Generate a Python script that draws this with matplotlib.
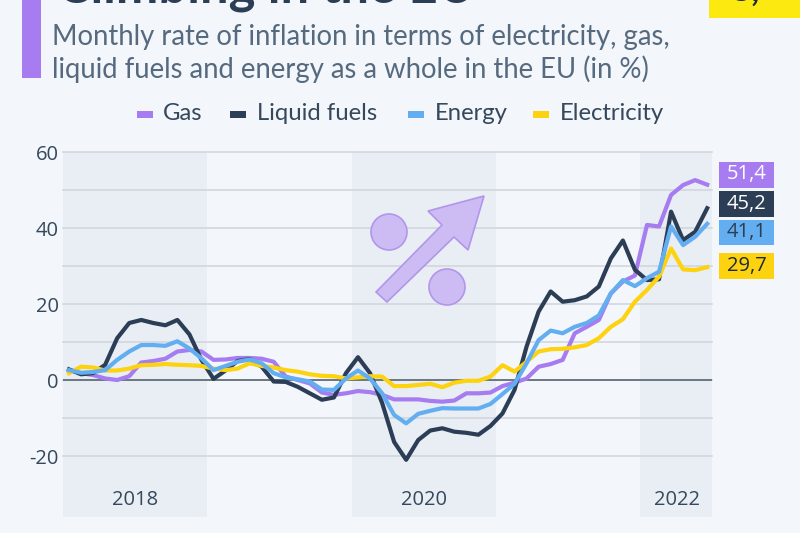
import matplotlib
matplotlib.use("Agg")
import matplotlib.pyplot as plt
from matplotlib.patches import Polygon, Circle, Rectangle

W, H = 800, 533

# monthly values, Jan 2018 - Jun 2022
gas = [2.6, 1.8, 1.3, 0.4, 0, 1, 4.6, 5, 5.6, 7.5, 7.9, 7.5,
       5.3, 5.4, 5.8, 5.8, 5.6, 4.8, 0.9, 0, -0.9, -3.3, -3.9, -3.5,
       -2.9, -3.2, -3.9, -5.1, -5.1, -5.1, -5.5, -5.7, -5.4, -3.5, -3.5, -3.3,
       -1.6, -0.7, 0.4, 3.5, 4.2, 5.3, 12.3, 14, 15.8, 22.8, 25.9, 27.5,
       40.8, 40.4, 48.7, 51.3, 52.6, 51.4]
liquid = [2.8, 1.5, 1.8, 4, 11, 15, 15.8, 15, 14.4, 15.8, 12, 5.3,
          0.3, 2.5, 5, 5.5, 3.5, -0.4, -0.5, -1.8, -3.5, -5.2, -4.6, 1.8,
          6, 1.8, -6, -16.3, -21, -15.8, -13.3, -12.7, -13.6, -13.9, -14.4, -12.1,
          -8.8, -2.6, 8.8, 18, 23.3, 20.6, 21, 22, 24.6, 32, 36.7, 29,
          26.3, 26.5, 44.3, 36.8, 39, 45.2]
energy = [2.6, 1.9, 2.1, 2.6, 5.3, 7.5, 9.2, 9.2, 9, 10.2, 8.3, 5.7,
          2.6, 3.7, 4.8, 5.4, 4.4, 1.8, 0.7, 0.2, -0.4, -2.5, -2.6, 0.4,
          2.5, 0.4, -3.5, -9.2, -11.4, -8.9, -8.1, -7.4, -7.5, -7.5, -7.5, -6.3,
          -3.7, -1, 4.4, 10.5, 13, 12.3, 14, 15, 17, 22.8, 26.3, 24.7,
          26.8, 28.5, 40.4, 35.5, 37.7, 41.1]
electricity = [1.8, 3.5, 3.3, 2.5, 2.5, 3, 3.9, 4, 4.2, 4, 3.9, 3.7,
               3, 2.6, 3, 4.4, 3.7, 3.3, 2.6, 2.2, 1.5, 1.1, 1, 0.4,
               0.7, 1, 0.9, -1.6, -1.6, -1.3, -1, -1.9, -0.7, -0.2, -0.2, 0.9,
               3.9, 2.2, 4.8, 7.5, 8.1, 8.2, 8.6, 9.2, 11, 14, 16, 20.6,
               23.7, 27.2, 34.6, 29.1, 28.9, 29.7]
years = ["2018", "2020", "2022"]
yticks = [60, 40, 20, 0, -20]
end_labels = ["51,4", "45,2", "41,1", "29,7"]

PURPLE = "#a67cf0"
DARK = "#2c3e55"
BLUE = "#63aef0"
YELLOW = "#fdd20e"
BG = "#f3f6fa"
BAND = "#e9eef5"
TEXT = "#35485c"
LATO = ["Lato", "DejaVu Sans"]

fig = plt.figure(figsize=(W / 100, H / 100), dpi=100, facecolor=BG)
plt.rcParams["font.family"] = ["Open Sans", "DejaVu Sans"]

# whole figure in pixels, for the header and the end labels
bg = fig.add_axes([0, 0, 1, 1], zorder=3)
bg.set_xlim(0, W)
bg.set_ylim(H, 0)
bg.axis("off")
bg.patch.set_alpha(0)

ax = fig.add_axes([63 / W, 1 - 517 / H, 649 / W, 365 / H], zorder=1)
ax.set_facecolor("none")
ax.set_xlim(0, 53.9)
ax.set_ylim(-36.05, 60)
months = [i + 0.5 for i in range(len(gas))]

# shaded years
for start, end in [(0, 12), (24, 36), (47.9, 54)]:
    ax.axvspan(start, end, color=BAND, lw=0, zorder=0)

for v in range(-20, 70, 10):
    ax.axhline(v, color="#cfd5dc", lw=1.1, zorder=1, clip_on=False)
ax.axhline(0, color="#5b6672", lw=1.2, zorder=1)

ax.plot(months, gas, color=PURPLE, lw=3, zorder=2)
ax.plot(months, liquid, color=DARK, lw=3, zorder=3)
ax.plot(months, electricity, color=YELLOW, lw=3, zorder=4)
ax.plot(months, energy, color=BLUE, lw=3, zorder=5)

ax.set_xticks([])
ax.set_yticks(yticks)
ax.set_yticklabels(["60", "40", "20", "0", "-20"], fontsize=14.5, color=TEXT)
ax.tick_params(axis="y", length=0, pad=3)
for s in ax.spines.values():
    s.set_visible(False)

for label, x in zip(years, [6, 30, 51]):
    ax.text(x, -31.6, label, ha="center", va="center", fontsize=14.5, color=TEXT)

# header
bg.add_patch(Rectangle((22, 0), 19, 78, color=PURPLE, lw=0))
bg.text(57, 2, "Climbing in the EU", fontsize=36.5, fontweight="bold", color=DARK,
        family=LATO, ha="left", va="baseline", clip_on=True)
bg.text(52, 37, "Monthly rate of inflation in terms of electricity, gas,", fontsize=19.8,
        color="#566a7f", family=LATO, va="center")
bg.text(52, 69, "liquid fuels and energy as a whole in the EU (in %)", fontsize=19.8,
        color="#566a7f", family=LATO, va="center")
bg.add_patch(Rectangle((709, 0), 91, 18, color="#fbe90f", lw=0))
bg.text(745, 1, "S,", fontsize=26, fontweight="bold", color="#1c2733", family=LATO,
        ha="center", va="baseline", clip_on=True)

# legend
for name, col, x0, xt in [("Gas", PURPLE, 137, 163), ("Liquid fuels", DARK, 230, 257),
                          ("Energy", BLUE, 408, 435), ("Electricity", YELLOW, 533, 560)]:
    bg.add_patch(Rectangle((x0, 110.5), 16, 7, color=col, lw=0))
    bg.text(xt, 114, name, fontsize=17.2, color=TEXT, va="center", family=LATO)

# end labels
for label, col, y0, tc in zip(end_labels, [PURPLE, DARK, BLUE, YELLOW], [162, 191, 219.5, 253],
                              ["white", "white", DARK, "#1f2a36"]):
    bg.add_patch(Rectangle((719, y0), 55, 25.5, color=col, lw=0))
    bg.text(746.5, y0 + 12.5, label, fontsize=14.5, color=tc, ha="center", va="center")

# arrow and percent dots
FILL = "#cdbcf4"
EDGE = "#b196ea"
arrow = [(376, 292), (442, 225), (428, 211), (484, 196), (468, 250), (454, 237), (387, 302)]
bg.add_patch(Polygon(arrow, closed=True, fc=FILL, ec=EDGE, lw=1.2))
bg.add_patch(Circle((389, 232), 18, fc=FILL, ec=EDGE, lw=1.2))
bg.add_patch(Circle((447, 287), 18, fc=FILL, ec=EDGE, lw=1.2))

fig.savefig("out.png", dpi=100, facecolor=BG)
